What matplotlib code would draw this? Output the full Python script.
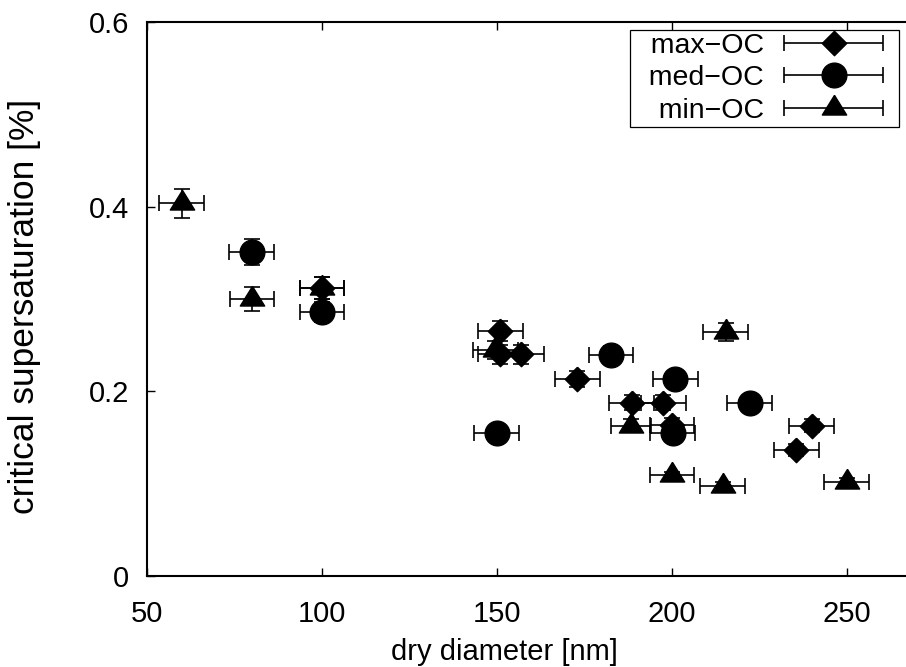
import matplotlib
matplotlib.use('Agg')
import matplotlib.pyplot as plt
from matplotlib.legend_handler import HandlerErrorbar
from matplotlib.container import ErrorbarContainer

plt.rcParams['font.family'] = ['Liberation Sans', 'DejaVu Sans']
plt.rcParams['axes.unicode_minus'] = True

# ---- data ----
max_x = [100, 150.9, 151.0, 156.9, 172.9, 188.5, 197.5, 200.0, 235.5, 239.9]
max_y = [0.312, 0.265, 0.240, 0.240, 0.2134, 0.1877, 0.1877, 0.164, 0.1365, 0.1625]
max_xerr = [6.4, 6.4, 6.4, 6.4, 6.4, 6.4, 6.4, 6.4, 6.4, 6.4]
max_yerr = [0.012, 0.011, 0.010, 0.010, 0.009, 0.008, 0.008, 0.007, 0.006, 0.007]

med_x = [79.9, 100.0, 149.9, 182.6, 200.9, 200.2, 222.2]
med_y = [0.3513, 0.2856, 0.1552, 0.2394, 0.2134, 0.1552, 0.1877]
med_xerr = [6.4, 6.4, 6.4, 6.4, 6.4, 6.4, 6.4]
med_yerr = [0.014, 0.011, 0.006, 0.010, 0.009, 0.006, 0.008]

min_x = [59.9, 80.0, 100.0, 149.5, 188.3, 200.0, 215.4, 214.5, 249.9]
min_y = [0.4036, 0.2997, 0.3123, 0.245, 0.1628, 0.1090, 0.2643, 0.0978, 0.1021]
min_xerr = [6.4, 6.4, 6.4, 6.4, 5.6, 6.4, 6.4, 6.4, 6.4]
min_yerr = [0.016, 0.013, 0.012, 0.010, 0.007, 0.004, 0.010, 0.004, 0.004]

series_labels = ['max\u2212OC', 'med\u2212OC', 'min\u2212OC']
x_ticks = [50, 100, 150, 200, 250]
y_ticks = [0, 0.2, 0.4, 0.6]
y_tick_labels = ['0', '0.2', '0.4', '0.6']

# ---- figure ----
W, H = 906, 667
fig = plt.figure(figsize=(W / 100, H / 100), dpi=100)
ax = fig.add_axes([147 / W, 91 / H, 759 / W, 554 / H])

diamond = [(0, 1), (1, 0), (0, -1), (-1, 0), (0, 1)]
triangle = [(0, 1), (0.927, -0.497), (-0.927, -0.497), (0, 1)]

common = dict(linestyle='none', color='black', ecolor='black',
              elinewidth=1.2, capsize=5.8, capthick=1.2)

h1 = ax.errorbar(max_x, max_y, xerr=max_xerr, yerr=max_yerr,
                 marker=diamond, markersize=17.6, label=series_labels[0], **common)
h2 = ax.errorbar(med_x, med_y, xerr=med_xerr, yerr=med_yerr,
                 marker='o', markersize=17.8, label=series_labels[1], **common)
h3 = ax.errorbar(min_x, min_y, xerr=min_xerr, yerr=min_yerr,
                 marker=triangle, markersize=18.9, label=series_labels[2], **common)

ax.set_xlim(50, 50 + 759 / 3.5)
ax.set_ylim(0, 0.6)
ax.set_xticks(x_ticks)
ax.set_yticks(y_ticks)
ax.set_yticklabels(y_tick_labels)

for s in ['left', 'bottom', 'top']:
    ax.spines[s].set_linewidth(1.5)
ax.spines['right'].set_visible(False)

ax.tick_params(axis='both', direction='in', length=6, width=1.0,
               labelsize=21, top=True, right=False)
ax.tick_params(axis='y', pad=13)
ax.tick_params(axis='x', pad=17.5)

ax.set_xlabel('dry diameter [nm]', fontsize=21)
ax.set_ylabel('critical supersaturation [%]', fontsize=25.5)
ax.xaxis.set_label_coords((504 - 147) / 759, (576 - 638) / 554)
ax.yaxis.set_label_coords((41 - 147) / 759, (576 - 306) / 554)

# legend: show only horizontal error bars
for h in (h1, h2, h3):
    h.has_yerr = False
leg_labels = ['  ' + s for s in series_labels]
leg = ax.legend(handles=[h1, h2, h3], labels=leg_labels, loc='upper right',
                bbox_to_anchor=(899 / W, (H - 30) / H), bbox_transform=fig.transFigure,
                borderaxespad=0, fontsize=20.5, markerfirst=False,
                frameon=True, fancybox=False, framealpha=1, edgecolor='black',
                handlelength=4.38, handletextpad=0.26, labelspacing=0.23,
                borderpad=0.1,
                handler_map={ErrorbarContainer: HandlerErrorbar(xerr_size=1.74)})
leg.get_frame().set_linewidth(0.9)

fig.savefig('out.png', dpi=100)
